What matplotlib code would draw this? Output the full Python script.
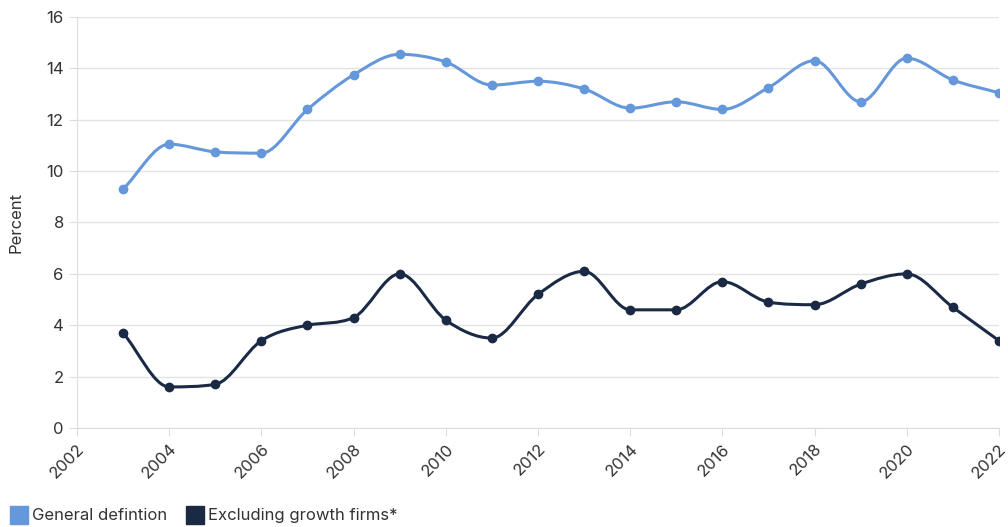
import matplotlib.pyplot as plt
import numpy as np
from matplotlib.path import Path
from matplotlib.patches import PathPatch
from matplotlib.lines import Line2D

years = list(range(2003, 2023))
general = [9.3, 11.05, 10.75, 10.7, 12.4, 13.75, 14.55, 14.25, 13.35, 13.5,
           13.2, 12.45, 12.7, 12.4, 13.25, 14.3, 12.7, 14.4, 13.55, 13.05]
excluding = [3.7, 1.6, 1.7, 3.4, 4.0, 4.3, 6.0, 4.2, 3.5, 5.2,
             6.1, 4.6, 4.6, 5.7, 4.9, 4.8, 5.6, 6.0, 4.7, 3.4]

labels = ['General defintion', 'Excluding growth firms*']
colors = ['#6597db', '#1b2a44']

plt.rcParams['font.family'] = ['Inter', 'DejaVu Sans']

fig = plt.figure(figsize=(10.08, 5.27), dpi=100)
ax = fig.add_axes([0.0764, 0.1879, 0.9146, 0.7798])
ax.set_xlim(2002, 2022)
ax.set_ylim(0, 16)


def monotone_path(xs, ys):
    # monotone cubic (Fritsch-Carlson) as bezier segments
    x = np.asarray(xs, float)
    y = np.asarray(ys, float)
    n = len(x)
    dk = np.diff(y) / np.diff(x)
    m = np.zeros(n)
    m[0], m[-1] = dk[0], dk[-1]
    for i in range(1, n - 1):
        m[i] = 0 if dk[i - 1] * dk[i] <= 0 else (dk[i - 1] + dk[i]) / 2
    for i in range(n - 1):
        if dk[i] == 0:
            m[i] = m[i + 1] = 0
            continue
        a, b = m[i] / dk[i], m[i + 1] / dk[i]
        s = a * a + b * b
        if s > 9:
            t = 3 / np.sqrt(s)
            m[i] = a * t * dk[i]
            m[i + 1] = b * t * dk[i]
    verts = [(x[0], y[0])]
    codes = [Path.MOVETO]
    for i in range(n - 1):
        d = (x[i + 1] - x[i]) / 3
        verts += [(x[i] + d, y[i] + m[i] * d),
                  (x[i + 1] - d, y[i + 1] - m[i + 1] * d),
                  (x[i + 1], y[i + 1])]
        codes += [Path.CURVE4] * 3
    return Path(verts, codes)


for ys, c in zip([general, excluding], colors):
    ax.add_patch(PathPatch(monotone_path(years, ys), facecolor='none',
                           edgecolor=c, lw=2.2, zorder=3))
    ax.plot(years, ys, 'o', color=c, ms=6, zorder=4)

ax.set_xticks(range(2002, 2023, 2))
ax.set_yticks(range(0, 17, 2))
ax.grid(axis='y', color='#e3e3e3', lw=1)
ax.set_axisbelow(True)
for s in ['top', 'right']:
    ax.spines[s].set_visible(False)
for s in ['left', 'bottom']:
    ax.spines[s].set_color('#dddddd')
ax.tick_params(axis='both', colors='#dddddd', labelcolor='#333333',
               labelsize=12, length=6)
plt.setp(ax.get_xticklabels(), rotation=45, ha='right', rotation_mode='anchor')
ax.set_ylabel('Percent', fontsize=12, color='#333333', labelpad=16)

handles = [Line2D([], [], ls='none', marker='s', ms=13, color=c) for c in colors]
fig.legend(handles, labels, loc='center left', bbox_to_anchor=(-0.004, 0.021),
           ncol=2, frameon=False, fontsize=12, handlelength=1.0,
           handletextpad=0.25, columnspacing=1.2, labelcolor='#333333')

fig.savefig('out.png', dpi=100)
